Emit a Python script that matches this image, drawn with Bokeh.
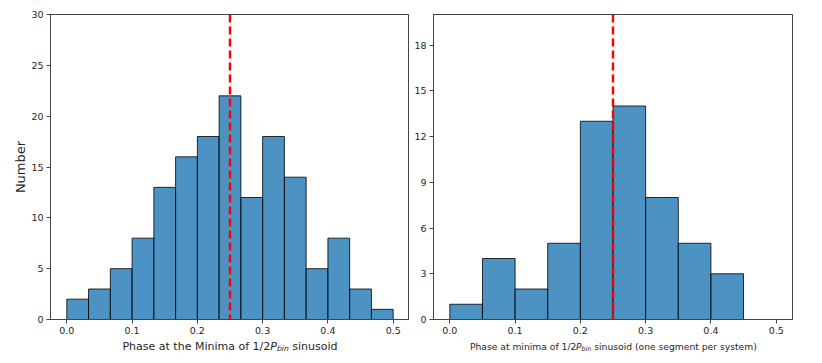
import numpy as np
from bokeh.plotting import figure
from bokeh.models import Span, Label, FixedTicker, Range1d
from bokeh.layouts import row, column
from bokeh.embed import file_html
from bokeh.resources import INLINE

# ---------------- data ----------------
left_counts = [2, 3, 5, 8, 13, 16, 18, 22, 12, 18, 14, 5, 8, 3, 1]
right_counts = [1, 4, 2, 5, 13, 14, 8, 5, 3, 0]
phase_min, phase_max = 0.0, 0.5
marker_phase = 0.25

x_ticks = [0.0, 0.1, 0.2, 0.3, 0.4, 0.5]
x_tick_labels = ["0.0", "0.1", "0.2", "0.3", "0.4", "0.5"]
left_y_ticks = [0, 5, 10, 15, 20, 25, 30]
left_y_tick_labels = ["0", "5", "10", "15", "20", "25", "30"]
right_y_ticks = [0, 3, 6, 9, 12, 15, 18]
right_y_tick_labels = ["0", "3", "6", "9", "12", "15", "18"]

left_label_parts = ["Phase at the Minima of 1/2", "P", "bin", " sinusoid"]
right_label_parts = ["Phase at minima of 1/2", "P", "bin", " sinusoid (one segment per system)"]
left_ylabel = "Number"

# ---------------- styling ----------------
FONT = "DejaVu Sans"
BAR_COLOR = "#1f77b4"
TEXT_COLOR = "#262626"
SPINE_COLOR = "#444444"
FRAME_W, FRAME_H = 359, 305
LABEL_H = 16
X0, X1 = phase_min - 0.025, phase_max + 0.025

# DejaVu Sans advance widths (units of 1/2048 em) for label layout
ADV = {' ': 651, 'P': 1235, 'h': 1298, 'a': 1255, 's': 1067, 'e': 1260, 't': 803,
       'M': 1767, 'i': 569, 'n': 1298, 'm': 1995, 'o': 1253, 'f': 721, '1': 1303,
       '/': 690, '2': 1303, 'b': 1300, 'u': 1298, 'd': 1300, '(': 799, ')': 799,
       'g': 1300, 'y': 1212, 'r': 842, 'p': 1300}


def text_w(t, size):
    return sum(ADV.get(c, 1250) for c in t) / 2048.0 * size


def make_fig(counts, y_top, yticks, ylabels, min_left, min_right):
    p = figure(output_backend="svg", toolbar_location=None,
               frame_width=FRAME_W, frame_height=FRAME_H,
               x_range=Range1d(X0, X1),
               y_range=Range1d(0, y_top),
               min_border_left=min_left, min_border_right=min_right,
               min_border_top=14, min_border_bottom=20)
    p.background_fill_color = "white"
    p.border_fill_color = "white"
    p.grid.visible = False
    p.outline_line_color = SPINE_COLOR
    p.outline_line_width = 1
    edges = np.linspace(phase_min, phase_max, len(counts) + 1)
    p.quad(left=edges[:-1], right=edges[1:], bottom=0, top=counts,
           fill_color=BAR_COLOR, fill_alpha=0.8,
           line_color="black", line_alpha=0.8, line_width=1)
    p.add_layout(Span(location=marker_phase, dimension="height",
                      line_color="red", line_width=2.5, line_dash="8 4"))
    for ax in (p.xaxis[0], p.yaxis[0]):
        ax.major_tick_out = 4
        ax.major_tick_in = 0
        ax.minor_tick_line_color = None
        ax.axis_line_color = SPINE_COLOR
        ax.major_tick_line_color = SPINE_COLOR
        ax.major_label_text_font = FONT
        ax.major_label_text_font_size = "9.5px"
        ax.major_label_text_color = TEXT_COLOR
        ax.major_label_standoff = 3
    p.xaxis[0].ticker = FixedTicker(ticks=x_ticks)
    p.xaxis[0].major_label_overrides = {t: l for t, l in zip(x_ticks, x_tick_labels)}
    p.yaxis[0].ticker = FixedTicker(ticks=yticks)
    p.yaxis[0].major_label_overrides = {t: l for t, l in zip(yticks, ylabels)}
    return p


def make_label_fig(parts, size, baseline_from_top, min_left, min_right):
    """A strip below a panel carrying its x-axis title (with subscript)."""
    q = figure(output_backend="svg", toolbar_location=None,
               frame_width=FRAME_W, frame_height=LABEL_H,
               x_range=Range1d(X0, X1), y_range=Range1d(0, LABEL_H),
               x_axis_location=None, y_axis_location=None,
               min_border_left=min_left, min_border_right=min_right,
               min_border_top=0, min_border_bottom=0)
    q.outline_line_color = None
    q.grid.visible = False
    q.background_fill_color = "white"
    q.border_fill_color = "white"
    xpp = (X1 - X0) / FRAME_W
    sub = size * 0.7
    sizes = [size, size, sub, size]
    styles = ["normal", "italic", "italic", "normal"]
    widths = [text_w(t, s) for t, s in zip(parts, sizes)]
    xs = FRAME_W / 2 - sum(widths) / 2
    base = LABEL_H - baseline_from_top
    offsets = [0, 0, -2.5, 0]
    for t, s, style, dy, w in zip(parts, sizes, styles, offsets, widths):
        lead = len(t) - len(t.lstrip(" "))
        shown = t.lstrip(" ")
        q.add_layout(Label(x=X0 + (xs + text_w(" " * lead, s)) * xpp, y=base + dy,
                           text=shown,
                           text_font=FONT, text_font_size=f"{s:.1f}px",
                           text_font_style=style, text_color=TEXT_COLOR,
                           text_align="left", text_baseline="alphabetic"))
        xs += w
    return q


p1 = make_fig(left_counts, 30, left_y_ticks, left_y_tick_labels, 50, 0)
p1.yaxis[0].axis_label = left_ylabel
p1.yaxis[0].axis_label_text_font = FONT
p1.yaxis[0].axis_label_text_font_size = "13px"
p1.yaxis[0].axis_label_text_font_style = "normal"
p1.yaxis[0].axis_label_text_color = TEXT_COLOR
p1.yaxis[0].axis_label_standoff = 0

p2 = make_fig(right_counts, 20, right_y_ticks, right_y_tick_labels, 24, 10)

l1 = make_label_fig(left_label_parts, 11.0, 6.5, 50, 0)
l2 = make_label_fig(right_label_parts, 9.15, 7.0, 24, 10)

layout = column(row(p1, p2, spacing=0), row(l1, l2, spacing=0), spacing=0)
open("out.html", "w").write(file_html(layout, INLINE))
